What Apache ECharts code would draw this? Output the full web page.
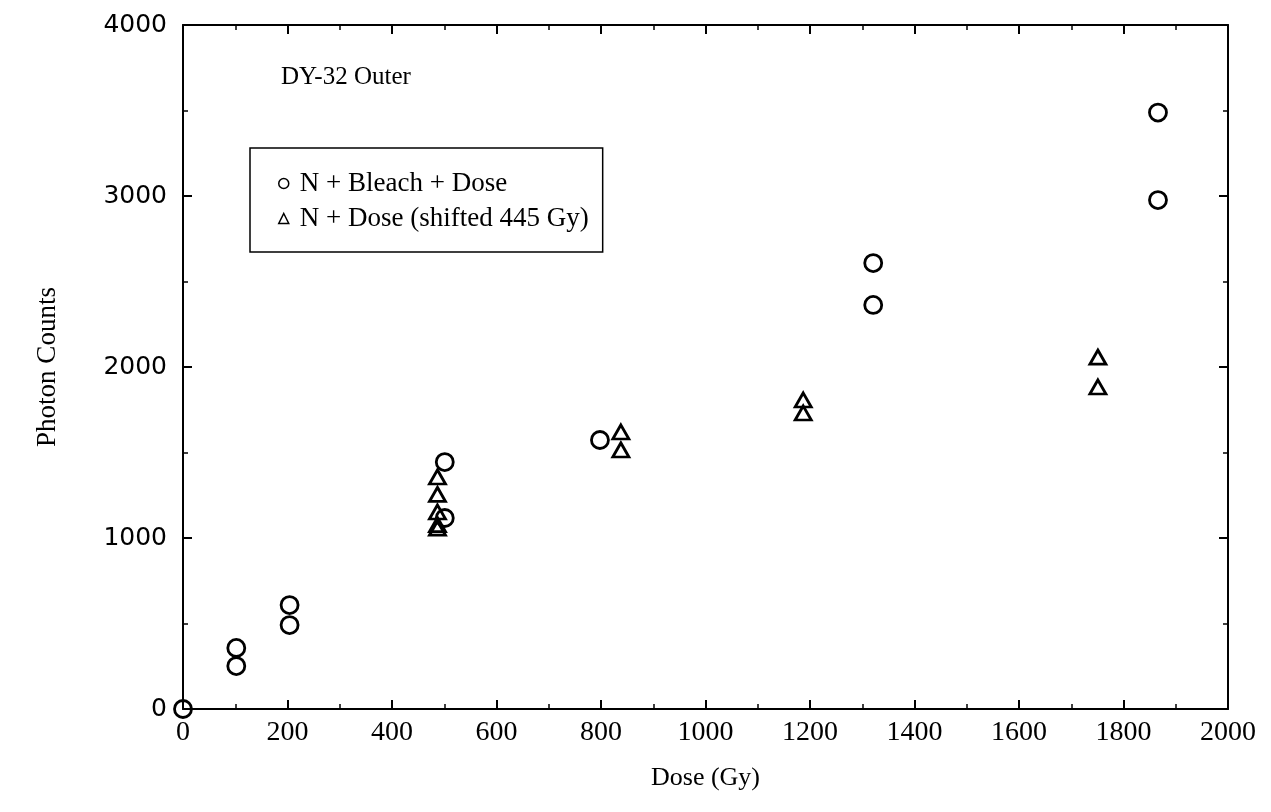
<!DOCTYPE html>
<html>
<head>
<meta charset="utf-8">
<script src="https://cdn.jsdelivr.net/npm/echarts@6/dist/echarts.min.js"></script>
<style>
  html, body { margin: 0; padding: 0; background: #fff; }
  #chart { width: 1271px; height: 812px; }
</style>
</head>
<body>
<div id="chart"></div>
<script>
// ---- data ----
var bleachDose = [0, 102, 102, 204, 204, 501, 501, 798, 1321, 1321, 1866, 1866];
var bleachCounts = [0, 357, 251, 608, 491, 1444, 1117, 1573, 2608, 2363, 3488, 2976];

var shiftDose = [487, 487, 487, 487, 487, 838, 838, 1187, 1187, 1751, 1751];
var shiftCounts = [1357, 1255, 1152, 1078, 1058, 1620, 1515, 1807, 1731, 2058, 1883];

var seriesNames = ['N + Bleach + Dose', 'N + Dose (shifted 445 Gy)'];
var xTicks = [0, 2000, 200];   // min, max, step
var yTicks = [0, 4000, 1000];

function pairs(xs, ys) {
  return xs.map(function(x, i) { return [x, ys[i]]; });
}

var SERIF = '"Liberation Serif", "DejaVu Serif", serif';
var SANS = '"DejaVu Sans", sans-serif';

function plain(v) { return String(v); }

function axisBase(show, extra) {
  var a = {
    axisLine: { show: true, onZero: false, lineStyle: { color: '#000', width: 2 } },
    axisTick: { show: true, inside: true, length: 9, lineStyle: { color: '#000', width: 2 } },
    minorTick: { show: true, splitNumber: 2, length: 5, lineStyle: { color: '#000', width: 1.5 } },
    splitLine: { show: false },
    axisLabel: { show: show }
  };
  for (var k in extra) a[k] = extra[k];
  return a;
}

var chart = echarts.init(document.getElementById('chart'));

chart.setOption({
  backgroundColor: '#fff',
  animation: false,
  title: {
    text: 'DY-32 Outer',
    left: 276, top: 60,
    textStyle: { fontFamily: SERIF, fontSize: 25, fontWeight: 'normal', color: '#000' }
  },
  legend: {
    orient: 'vertical',
    left: 250, top: 148,
    padding: [22, 14, 20, 28],
    borderColor: '#000', borderWidth: 1.5,
    itemWidth: 10, itemHeight: 10, itemGap: 8,
    itemStyle: { color: 'rgba(255,255,255,0)', borderColor: '#000', borderWidth: 1.5 },
    textStyle: { fontFamily: SERIF, fontSize: 27, color: '#000', padding: [0, 0, 0, 6] },
    data: seriesNames
  },
  grid: { left: 183, right: 43, top: 25, bottom: 103, containLabel: false },
  xAxis: [
    axisBase(true, {
      type: 'value', position: 'bottom',
      min: xTicks[0], max: xTicks[1], interval: xTicks[2],
      name: 'Dose (Gy)', nameLocation: 'middle', nameGap: 56,
      nameTextStyle: { fontFamily: SERIF, fontSize: 26, color: '#000' },
      axisLabel: { show: true, margin: 10, formatter: plain, fontFamily: SERIF, fontSize: 28, color: '#000' }
    }),
    axisBase(false, {
      type: 'value', position: 'top',
      min: xTicks[0], max: xTicks[1], interval: xTicks[2]
    })
  ],
  yAxis: [
    axisBase(true, {
      type: 'value', position: 'left',
      min: yTicks[0], max: yTicks[1], interval: yTicks[2],
      name: 'Photon Counts', nameLocation: 'middle', nameGap: 122,
      nameTextStyle: { fontFamily: SERIF, fontSize: 27, color: '#000' },
      axisLabel: { show: true, margin: 16, formatter: plain, fontFamily: SANS, fontSize: 25, color: '#000' }
    }),
    axisBase(false, {
      type: 'value', position: 'right',
      min: yTicks[0], max: yTicks[1], interval: yTicks[2]
    })
  ],
  series: [
    {
      name: seriesNames[0], type: 'scatter',
      xAxisIndex: 0, yAxisIndex: 0,
      symbol: 'circle', symbolSize: 17,
      itemStyle: { color: 'rgba(255,255,255,0)', borderColor: '#000', borderWidth: 2.8, opacity: 1 },
      data: pairs(bleachDose, bleachCounts),
      z: 5
    },
    {
      name: seriesNames[1], type: 'scatter',
      xAxisIndex: 0, yAxisIndex: 0,
      symbol: 'triangle', symbolSize: [16, 14],
      itemStyle: { color: 'rgba(255,255,255,0)', borderColor: '#000', borderWidth: 2.8, opacity: 1 },
      data: pairs(shiftDose, shiftCounts),
      z: 5
    }
  ]
});
</script>
</body>
</html>
